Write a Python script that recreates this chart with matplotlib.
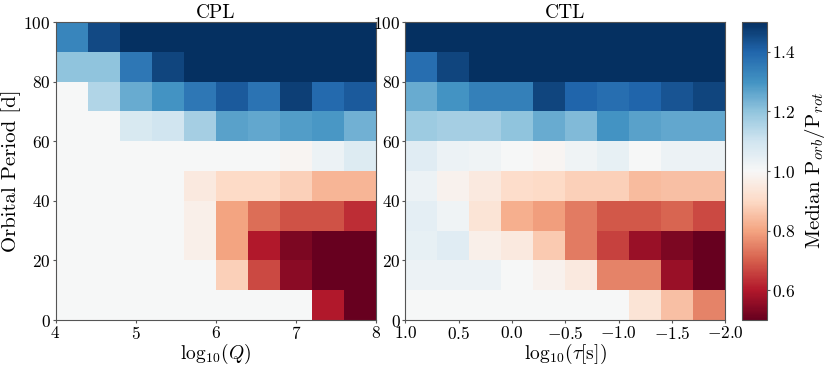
import numpy as np
import matplotlib
matplotlib.use("Agg")
import matplotlib.pyplot as plt

plt.rcParams['font.family'] = 'serif'
plt.rcParams['font.serif'] = ['cmr10', 'DejaVu Serif']
plt.rcParams['mathtext.fontset'] = 'cm'
plt.rcParams['axes.formatter.use_mathtext'] = True
plt.rcParams['axes.unicode_minus'] = True

# bin edges
q_edges = np.linspace(4, 8, 11)
tau_edges = np.linspace(1.0, -2.0, 11)
p_edges = np.linspace(0, 100, 11)

# Median Porb/Prot, rows from P=0-10 (bottom) to 90-100 (top)
cpl = [
    [1.00, 1.00, 1.00, 1.00, 1.00, 1.00, 1.00, 1.00, 0.60, 0.48],
    [1.00, 1.00, 1.00, 1.00, 1.00, 0.88, 0.67, 0.55, 0.48, 0.48],
    [1.00, 1.00, 1.00, 1.00, 0.97, 0.80, 0.60, 0.53, 0.50, 0.48],
    [1.00, 1.00, 1.00, 1.00, 0.97, 0.80, 0.72, 0.68, 0.68, 0.63],
    [1.00, 1.00, 1.00, 1.00, 0.95, 0.90, 0.90, 0.88, 0.83, 0.83],
    [1.00, 1.00, 1.00, 1.00, 1.00, 1.00, 1.00, 0.99, 1.03, 1.07],
    [1.00, 1.00, 1.08, 1.10, 1.17, 1.27, 1.26, 1.28, 1.29, 1.24],
    [1.00, 1.15, 1.25, 1.30, 1.36, 1.42, 1.37, 1.47, 1.39, 1.42],
    [1.20, 1.20, 1.36, 1.46, 1.60, 1.60, 1.60, 1.60, 1.60, 1.60],
    [1.33, 1.45, 1.60, 1.60, 1.60, 1.60, 1.60, 1.60, 1.60, 1.60],
]
ctl = [
    [1.00, 1.00, 1.00, 1.00, 1.00, 1.00, 1.00, 0.93, 0.85, 0.75],
    [1.03, 1.03, 1.03, 1.00, 0.98, 0.95, 0.75, 0.75, 0.57, 0.50],
    [1.04, 1.06, 0.97, 0.95, 0.87, 0.74, 0.66, 0.57, 0.53, 0.50],
    [1.05, 1.02, 0.93, 0.82, 0.79, 0.74, 0.69, 0.69, 0.71, 0.67],
    [1.03, 0.98, 0.95, 0.91, 0.90, 0.88, 0.88, 0.84, 0.85, 0.85],
    [1.06, 1.03, 1.02, 1.00, 0.99, 1.02, 1.04, 1.00, 1.03, 1.03],
    [1.18, 1.17, 1.17, 1.20, 1.25, 1.22, 1.30, 1.27, 1.26, 1.26],
    [1.25, 1.30, 1.34, 1.34, 1.46, 1.40, 1.38, 1.40, 1.43, 1.46],
    [1.38, 1.46, 1.60, 1.60, 1.60, 1.60, 1.60, 1.60, 1.60, 1.60],
    [1.60, 1.60, 1.60, 1.60, 1.60, 1.60, 1.60, 1.60, 1.60, 1.60],
]

vmin, vmax = 0.5, 1.5
fig = plt.figure(figsize=(8.3, 3.68), dpi=100)
ax1 = fig.add_axes([0.0669, 0.1304, 0.3861, 0.8098])
ax2 = fig.add_axes([0.4883, 0.1304, 0.3855, 0.8098])
cax = fig.add_axes([0.8943, 0.1304, 0.0294, 0.8098])

m1 = ax1.pcolormesh(q_edges, p_edges, np.array(cpl), cmap='RdBu', vmin=vmin, vmax=vmax)
m2 = ax2.pcolormesh(tau_edges, p_edges, np.array(ctl), cmap='RdBu', vmin=vmin, vmax=vmax)

ax1.set_xlim(4, 8)
ax2.set_xlim(1.0, -2.0)
for ax in (ax1, ax2):
    ax.set_ylim(0, 100)
    ax.set_yticks([0, 20, 40, 60, 80, 100])
    ax.tick_params(labelsize=12.5, color='#555555', length=2.5, pad=1)
    for s in ax.spines.values():
        s.set_color('#555555')
ax1.set_xticks([4, 5, 6, 7, 8])
ax2.set_xticks([1.0, 0.5, 0.0, -0.5, -1.0, -1.5, -2.0])
ax2.set_xticklabels(['$1.0$', '$0.5$', '$0.0$', '$-0.5$', '$-1.0$', '$-1.5$', '$-2.0$'])

ax1.set_title('CPL', fontsize=14, pad=2)
ax2.set_title('CTL', fontsize=14, pad=2)
ax1.set_xlabel(r'$\mathrm{log}_{10}(Q)$', fontsize=14, labelpad=0)
ax2.set_xlabel(r'$\mathrm{log}_{10}(\tau[\mathrm{s}])$', fontsize=14, labelpad=0)
ax1.set_ylabel('Orbital Period [d]', fontsize=15, labelpad=2)

cb = fig.colorbar(m1, cax=cax)
cb.set_ticks([0.6, 0.8, 1.0, 1.2, 1.4])
cb.ax.tick_params(labelsize=12.5, color='#555555', length=2.5, pad=1)
cb.outline.set_edgecolor('#555555')
cb.set_label(r'Median P$_{orb}$/P$_{rot}$', fontsize=15, labelpad=6)

fig.savefig('out.png', dpi=100)
